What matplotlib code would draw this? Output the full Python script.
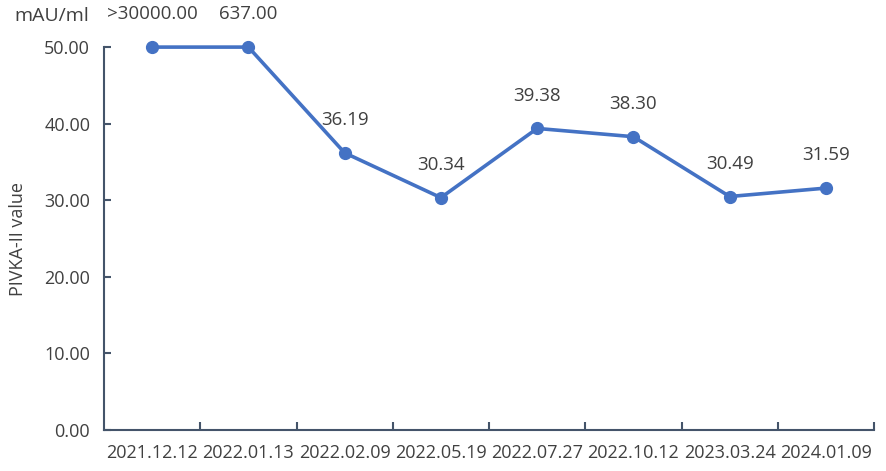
import matplotlib.pyplot as plt

dates = ['2021.12.12', '2022.01.13', '2022.02.09', '2022.05.19',
         '2022.07.27', '2022.10.12', '2023.03.24', '2024.01.09']
plot_values = [50, 50, 36.19, 30.34, 39.38, 38.30, 30.49, 31.59]
labels = ['>30000.00', '637.00', '36.19', '30.34', '39.38', '38.30', '30.49', '31.59']

plt.rcParams['font.family'] = ['Open Sans', 'DejaVu Sans']
txt = '#404040'
axc = '#44546A'
linec = '#4472C4'

fig = plt.figure(figsize=(8.86, 4.71), dpi=100)
ax = fig.add_axes([0.1174, 0.087, 0.8691, 0.813])

x = list(range(len(dates)))
ax.plot(x, plot_values, color=linec, lw=2.6, marker='o', ms=8.5,
        clip_on=False, zorder=3)

for i, (v, lab) in enumerate(zip(plot_values, labels)):
    ax.annotate(lab, (i, v), xytext=(0, 23.5), textcoords='offset points',
                ha='center', va='center', fontsize=13.5, color=txt,
                annotation_clip=False)

fig.text(0.016, 0.966, 'mAU/ml', ha='left', va='center', fontsize=14, color=txt)

ax.set_xlim(-0.5, len(dates) - 0.5)
ax.set_ylim(0, 50)
ax.set_yticks([0, 10, 20, 30, 40, 50])
ax.set_yticklabels(['%.2f' % t for t in [0, 10, 20, 30, 40, 50]])
ax.set_xticks(x)
ax.set_xticklabels(dates)
ax.set_xticks([i + 0.5 for i in range(len(dates))], minor=True)

ax.tick_params(axis='x', which='major', length=0, pad=10, labelsize=13, labelcolor=txt)
ax.tick_params(axis='x', which='minor', direction='in', length=6, width=1.5, color=axc)
ax.tick_params(axis='y', direction='in', length=5, width=1.5, color=axc,
               pad=10, labelsize=13, labelcolor=txt)

for s in ['top', 'right']:
    ax.spines[s].set_visible(False)
for s in ['left', 'bottom']:
    ax.spines[s].set_color(axc)
    ax.spines[s].set_linewidth(1.5)

ax.set_ylabel('PIVKA-II value', fontsize=13, color=txt)
ax.yaxis.set_label_coords(-0.10, 0.5)

fig.savefig('out.png', dpi=100)
